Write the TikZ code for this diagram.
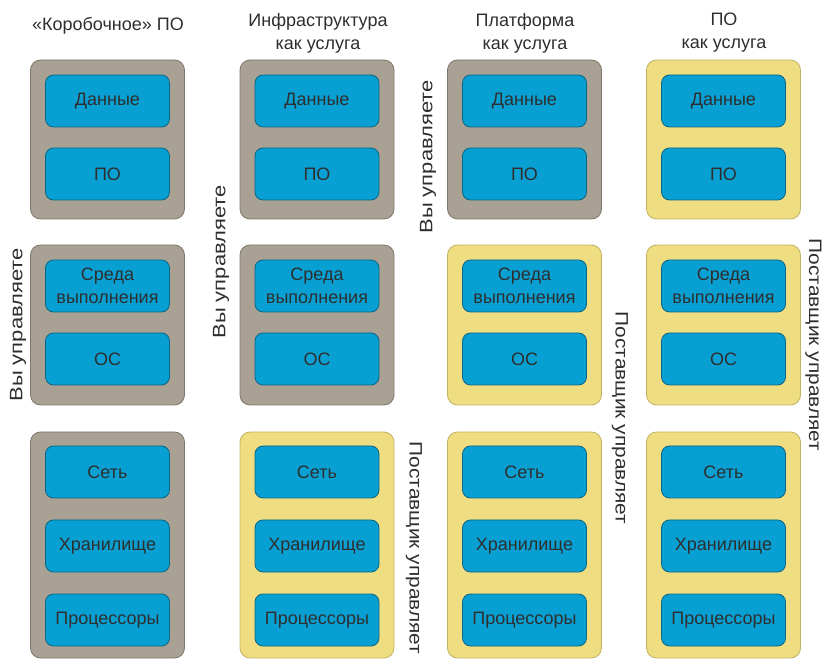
\documentclass[tikz,border=0pt]{standalone}
\usepackage{fontspec}
\setmainfont{Liberation Sans}
\definecolor{grayfill}{HTML}{A9A193}
\definecolor{grayedge}{HTML}{7D776B}
\definecolor{yelfill}{HTML}{EFDD82}
\definecolor{yeledge}{HTML}{C2B266}
\definecolor{bluefill}{HTML}{08A0D2}
\definecolor{blueedge}{HTML}{0B6585}
\definecolor{txt}{HTML}{2E2E2E}
\newcommand{\wide}[2]{\scalebox{#1}[1]{#2}}
\begin{document}
\begin{tikzpicture}[x=1pt,y=-1pt,
  every node/.style={font=\fontsize{18}{20}\selectfont, text=txt},
  grp/.style={rounded corners=10pt, line width=0.8pt, inner sep=0pt, minimum width=154pt},
  mine/.style={grp, fill=grayfill, draw=grayedge},
  theirs/.style={grp, fill=yelfill, draw=yeledge},
  layer/.style={rounded corners=8pt, fill=bluefill, draw=blueedge, line width=0.8pt,
    minimum width=124pt, minimum height=52pt, inner sep=0pt, align=center,
    font=\fontsize{18}{22.5}\selectfont},
  ttl/.style={align=center, font=\fontsize{18}{23}\selectfont},
  side/.style={font=\fontsize{18}{20}\selectfont, inner sep=1pt}]
\useasboundingbox (0,0) rectangle (823,660);
% column centres: 107.5, 317, 524.5, 723.5
\foreach \c/\cx/\a/\b/\d in {1/107.5/mine/mine/mine, 2/317/mine/mine/theirs, 3/524.5/mine/theirs/theirs, 4/723.5/theirs/theirs/theirs}{
  \node[\a, minimum height=159pt] (g1\c) at (\cx,139.5) {};
  \node[\b, minimum height=160pt] (g2\c) at (\cx,325) {};
  \node[\d, minimum height=226pt] (g3\c) at (\cx,545) {};
  \node[layer] (dat\c) at (\cx,101) {Данные};
  \node[layer] (app\c) at (\cx,174) {ПО};
  \node[layer] (rt\c) at (\cx,286) {Среда\\выполнения};
  \node[layer] (os\c) at (\cx,359) {ОС};
  \node[layer] (net\c) at (\cx,472) {Сеть};
  \node[layer] (sto\c) at (\cx,546) {Хранилище};
  \node[layer] (cpu\c) at (\cx,620) {Процессоры};
}
\node[ttl] (t1) at (108,26) {«Коробочное» ПО};
\node[ttl] (t2) at (318,33) {Инфраструктура\\как услуга};
\node[ttl] (t3) at (525,33) {Платформа\\как услуга};
\node[ttl] (t4) at (724,33) {ПО\\как услуга};
\node[side, rotate=90] (you1) at (18,325) {\wide{1.22}{Вы управляете}};
\node[side, rotate=90] (you2) at (221,262) {\wide{1.22}{Вы управляете}};
\node[side, rotate=90] (you3) at (428,157) {\wide{1.22}{Вы управляете}};
\node[side, rotate=-90] (pr2) at (414,548) {\wide{1.16}{Поставщик управляет}};
\node[side, rotate=-90] (pr3) at (620,418) {\wide{1.16}{Поставщик управляет}};
\node[side, rotate=-90] (pr4) at (813.5,345) {\wide{1.16}{Поставщик управляет}};
\end{tikzpicture}
\end{document}
